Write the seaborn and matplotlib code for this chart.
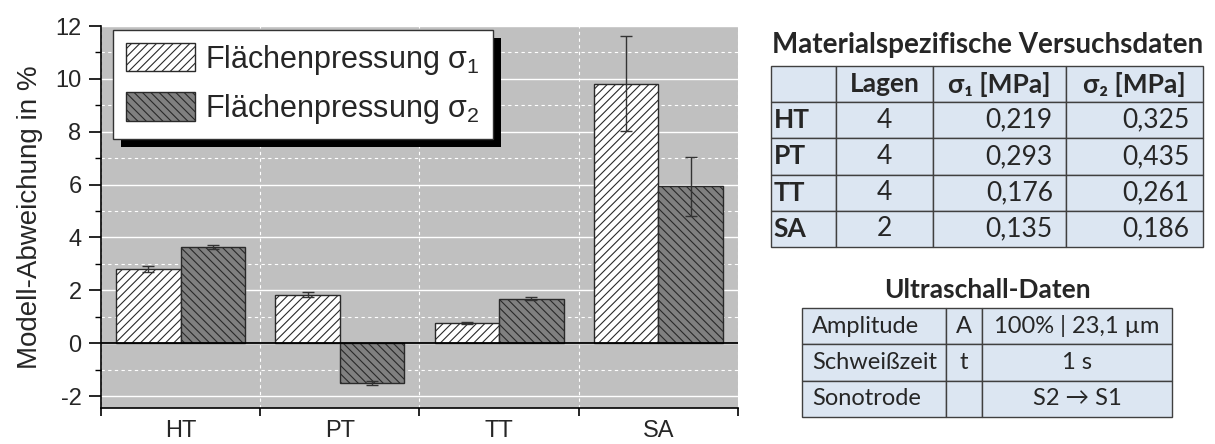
import matplotlib
matplotlib.use("Agg")
import matplotlib.pyplot as plt
import pandas as pd
import seaborn as sns
from matplotlib.patches import Patch, Rectangle

# Daten
categories = ["HT", "PT", "TT", "SA"]
sigma1 = [2.80, 1.84, 0.77, 9.81]
sigma1_err = [0.12, 0.09, 0.04, 1.80]
sigma2 = [3.64, -1.50, 1.69, 5.94]
sigma2_err = [0.09, 0.09, 0.04, 1.11]
series_labels = ["Flächenpressung σ$_1$", "Flächenpressung σ$_2$"]

mat_header = ["", "Lagen", "σ₁ [MPa]", "σ₂ [MPa]"]
mat_lagen = ["4", "4", "4", "2"]
mat_s1 = ["0,219", "0,293", "0,176", "0,135"]
mat_s2 = ["0,325", "0,435", "0,261", "0,186"]

us_names = ["Amplitude", "Schweißzeit", "Sonotrode"]
us_symbols = ["A", "t", ""]
us_values = ["100% | 23,1 µm", "1 s", "S2 → S1"]

sns.set_theme(style="white")
plt.rcParams["font.family"] = ["Liberation Sans", "DejaVu Sans"]
plt.rcParams["hatch.linewidth"] = 0.8
plt.rcParams["axes.unicode_minus"] = False
plt.rcParams["mathtext.fontset"] = "custom"
plt.rcParams["mathtext.rm"] = "Liberation Sans"
plt.rcParams["mathtext.it"] = "Liberation Sans"

df = pd.DataFrame({
    "cat": categories * 2,
    "val": sigma1 + sigma2,
    "serie": ["s1"] * 4 + ["s2"] * 4,
})

fig = plt.figure(figsize=(12.15, 4.44), dpi=100)
ax = fig.add_axes([0.0831, 0.0811, 0.5243, 0.8603])
ax.set_facecolor("#c0c0c0")

sns.barplot(data=df, x="cat", y="val", hue="serie", palette=["white", "#808080"],
            edgecolor="#2a2a2a", linewidth=1.0, errorbar=None, legend=False,
            width=0.81, ax=ax)

hatches = ["////", "\\\\\\\\"]
errs = [sigma1_err, sigma2_err]
for cont, h, err in zip(ax.containers, hatches, errs):
    xs = []
    ys = []
    for bar in cont:
        bar.set_hatch(h)
        xs.append(bar.get_x() + bar.get_width() / 2)
        ys.append(bar.get_y() + bar.get_height())
    ax.errorbar(xs, ys, yerr=err, fmt="none", ecolor="#333333", elinewidth=1.0,
                capsize=4.3, capthick=1.0, zorder=4)

ax.axhline(0, color="black", lw=1.3, zorder=3)

# Achsen
ax.set_ylim(-2.45, 12)
ax.set_xlim(-0.5, 3.5)
ax.set_yticks(range(-2, 13, 2))
ax.set_yticks(range(-2, 13, 1), minor=True)
ax.set_xticks([-0.5, 0.5, 1.5, 2.5, 3.5])
ax.set_xticklabels([])
ax.set_xticks(range(4), minor=True)
ax.set_xticklabels(categories, minor=True, fontsize=17)
ax.tick_params(axis="x", which="major", direction="out", length=6, width=1.2,
               bottom=True, color="black")
ax.tick_params(axis="x", which="minor", length=0, pad=9)
ax.tick_params(axis="y", which="major", direction="out", length=9, width=1.2,
               left=True, labelsize=17, color="black", pad=5)
ax.tick_params(axis="y", which="minor", direction="out", length=4, width=1.0,
               left=True, color="black")
ax.set_xlabel("")
ax.set_ylabel("Modell-Abweichung in %", fontsize=20, labelpad=9)

ax.set_axisbelow(True)
ax.grid(axis="y", which="major", color="white", lw=1.0, ls="-")
ax.grid(axis="y", which="minor", color="white", lw=0.8, ls=(0, (3, 3)))
ax.grid(axis="x", which="major", color="white", lw=0.8, ls=(0, (3, 3)))

for s in ["top", "right"]:
    ax.spines[s].set_visible(False)
for s in ["left", "bottom"]:
    ax.spines[s].set_color("black")
    ax.spines[s].set_linewidth(1.2)

# Legende mit schwarzem Schatten
handles = [Patch(facecolor="white", edgecolor="#2a2a2a", hatch="////"),
           Patch(facecolor="#808080", edgecolor="#2a2a2a", hatch="\\\\\\\\")]
leg = ax.legend(handles, series_labels, loc="upper left", bbox_to_anchor=(0.019, 0.99),
                borderaxespad=0, fontsize=22, handlelength=2.25, handleheight=1.05,
                labelspacing=0.5, borderpad=0.42, fancybox=False, framealpha=1,
                edgecolor="#333333", handletextpad=0.35)
leg.get_frame().set_linewidth(1.0)
fig.canvas.draw()
bb = leg.get_window_extent().transformed(ax.transAxes.inverted())
dx = 8 / ax.bbox.width
dy = 8 / ax.bbox.height
shadow = Rectangle((bb.x0 + dx, bb.y0 - dy), bb.width, bb.height, transform=ax.transAxes,
                   facecolor="black", edgecolor="none", zorder=4.9, clip_on=False)
ax.add_patch(shadow)

# Tabellen
tfont = ["Lato", "DejaVu Sans"]
bg = "#dce6f2"
line = "#404040"

fig.text(0.8124, 0.898, "Materialspezifische Versuchsdaten", ha="center", va="center",
         fontsize=20, fontweight="bold", family=tfont)
tax1 = fig.add_axes([0.6346, 0.4437, 0.3556, 0.4077])
tax1.axis("off")
rows1 = [mat_header] + [[c, l, a, b] for c, l, a, b in zip(categories, mat_lagen, mat_s1, mat_s2)]
t1 = tax1.table(cellText=rows1, bbox=[0, 0, 1, 1], colWidths=[0.150, 0.225, 0.308, 0.317],
                cellColours=[[bg] * 4] * 5, cellLoc="center")
t1.auto_set_font_size(False)
for (r, c), cell in t1.get_celld().items():
    cell.set_edgecolor(line)
    cell.set_linewidth(1.0)
    txt = cell.get_text()
    txt.set_fontsize(19)
    txt.set_family(tfont)
    if r == 0 or c == 0:
        txt.set_fontweight("bold")
    if c == 0 and r > 0:
        txt.set_horizontalalignment("left")
        cell.PAD = 0.04
    elif c >= 2 and r > 0:
        txt.set_horizontalalignment("right")
        cell.PAD = 0.1

fig.text(0.8124, 0.347, "Ultraschall-Daten", ha="center", va="center",
         fontsize=19, fontweight="bold", family=tfont)
tax2 = fig.add_axes([0.6601, 0.0608, 0.3045, 0.2455])
tax2.axis("off")
rows2 = [[n, s, v] for n, s, v in zip(us_names, us_symbols, us_values)]
t2 = tax2.table(cellText=rows2, bbox=[0, 0, 1, 1], colWidths=[0.389, 0.097, 0.514],
                cellColours=[[bg] * 3] * 3, cellLoc="center")
t2.auto_set_font_size(False)
for (r, c), cell in t2.get_celld().items():
    cell.set_edgecolor(line)
    cell.set_linewidth(1.0)
    txt = cell.get_text()
    txt.set_fontsize(17)
    txt.set_family(tfont)
    if c == 0:
        txt.set_horizontalalignment("left")
        cell.PAD = 0.07

fig.savefig("out.png", dpi=100, facecolor="white")
